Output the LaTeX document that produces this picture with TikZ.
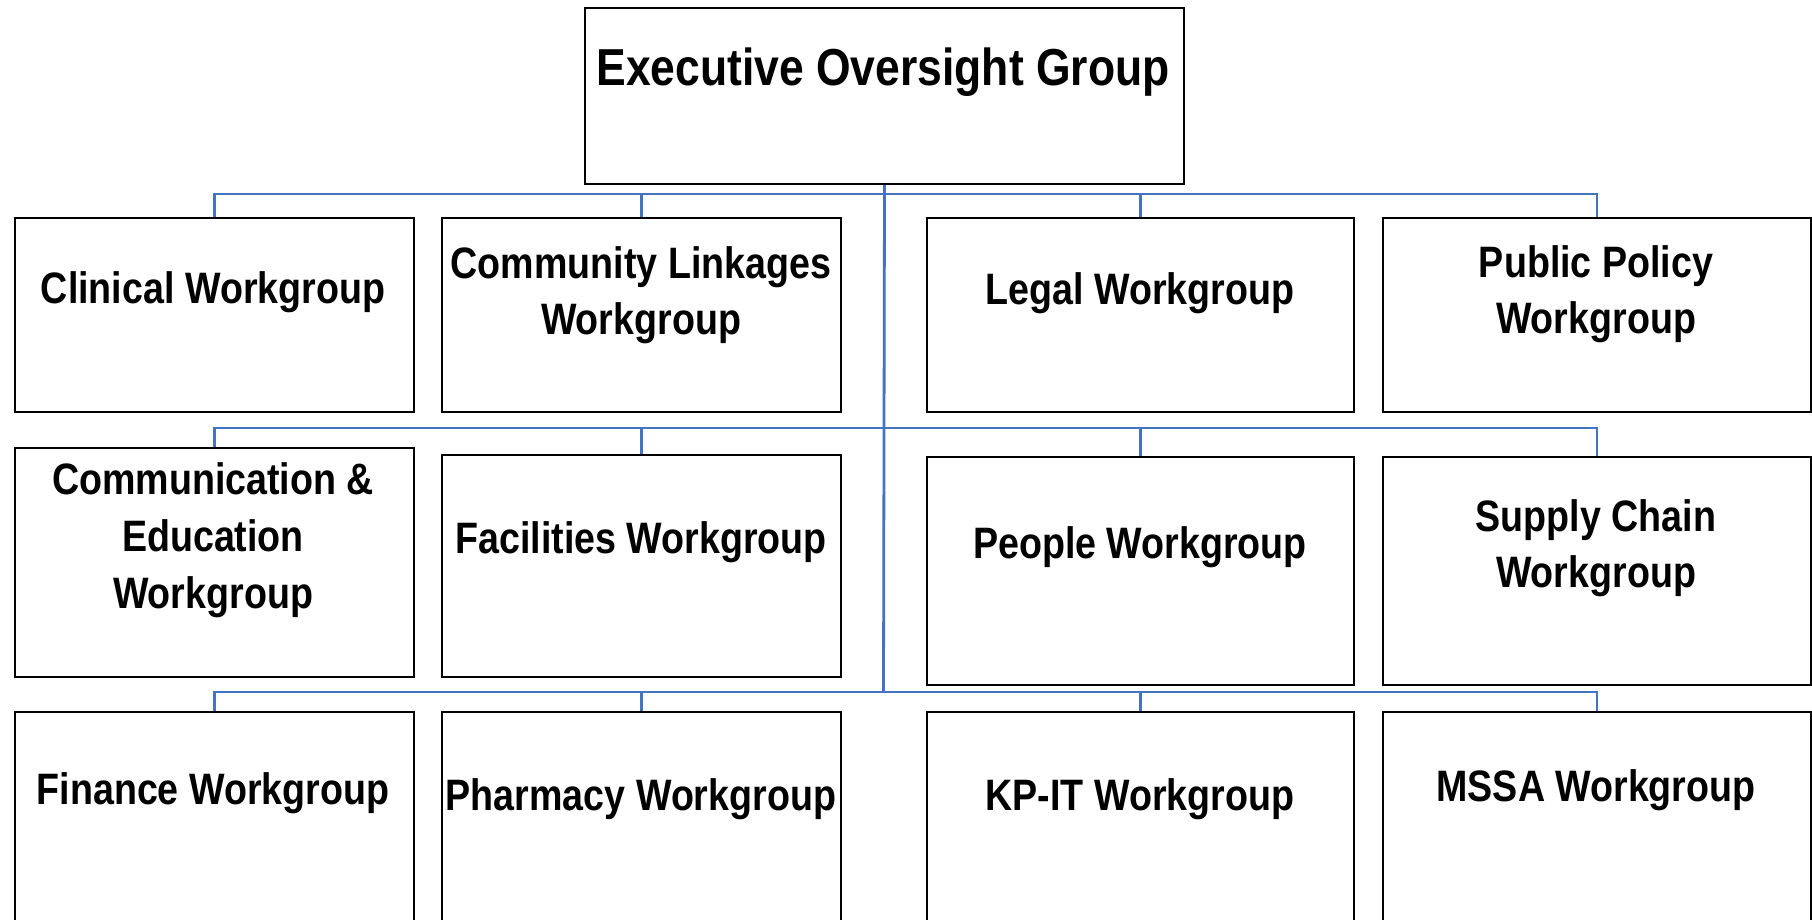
\documentclass[tikz,border=0pt]{standalone}
\usepackage{fontspec}
\setmainfont{Liberation Sans}[FakeStretch=0.855]
\definecolor{orgblue}{HTML}{4472C4}
\begin{document}
\begin{tikzpicture}[x=1pt,y=-1pt,
  box/.style={draw=black, line width=2pt, fill=white, inner sep=0pt, anchor=north west},
  lbl/.style={anchor=base, align=center, inner sep=0pt, font=\fontsize{44}{56}\selectfont\bfseries},
  conn/.style={draw=orgblue, line width=2.8pt}]
\useasboundingbox (0,0) rectangle (1812,919);
\clip (0,0) rectangle (1812,919);
\fill[white] (0,0) rectangle (1812,919);
% top
\node[box, minimum width=599pt, minimum height=176pt] (exec) at (584,7) {};
\node[lbl, font=\fontsize{52}{62}\selectfont\bfseries] (execT) at (883,85) {Executive Oversight Group};
% row 1
\node[box, minimum width=399pt, minimum height=194pt] (clin) at (14,217) {};
\node[box, minimum width=399pt, minimum height=194pt] (comm) at (441,217) {};
\node[box, minimum width=427pt, minimum height=194pt] (legal) at (926,217) {};
\node[box, minimum width=428pt, minimum height=194pt] (pub) at (1382,217) {};
\node[lbl] (clinT) at (213,303) {Clinical Workgroup};
\node[lbl] (commT) at (641,334) {Community Linkages\\Workgroup};
\node[lbl] (legalT) at (1140,304) {Legal Workgroup};
\node[lbl] (pubT) at (1596,333) {Public Policy\\Workgroup};
% row 2
\node[box, minimum width=399pt, minimum height=229pt] (cedu) at (14,447) {};
\node[box, minimum width=399pt, minimum height=222pt] (fac) at (441,454) {};
\node[box, minimum width=427pt, minimum height=228pt] (people) at (926,456) {};
\node[box, minimum width=428pt, minimum height=228pt] (supply) at (1382,456) {};
\node[lbl, font=\fontsize{44}{57}\selectfont\bfseries] (ceduT) at (213,608) {Communication \&\\Education\\Workgroup};
\node[lbl] (facT) at (641,553) {Facilities Workgroup};
\node[lbl] (peopleT) at (1140,558) {People Workgroup};
\node[lbl] (supplyT) at (1596,587) {Supply Chain\\Workgroup};
% row 3
\node[box, minimum width=399pt, minimum height=240pt] (fin) at (14,711) {};
\node[box, minimum width=399pt, minimum height=240pt] (pharm) at (441,711) {};
\node[box, minimum width=427pt, minimum height=240pt] (kpit) at (926,711) {};
\node[box, minimum width=428pt, minimum height=240pt] (mssa) at (1382,711) {};
\node[lbl] (finT) at (213,804) {Finance Workgroup};
\node[lbl] (pharmT) at (641,810) {Pharmacy Workgroup};
\node[lbl] (kpitT) at (1140,810) {KP-IT Workgroup};
\node[lbl] (mssaT) at (1596,801) {MSSA Workgroup};
% connectors
\coordinate (b1) at (883.5,194);
\coordinate (b2) at (883.5,428);
\coordinate (b3) at (883.5,692);
\draw[conn] (exec.south) -- (b3);
\draw[conn] (b1) -| (clin.north);
\draw[conn] (b1) -| (comm.north);
\draw[conn] (b1) -| (legal.north);
\draw[conn] (b1) -| (pub.north);
\draw[conn] (b2) -| (cedu.north);
\draw[conn] (b2) -| (fac.north);
\draw[conn] (b2) -| (people.north);
\draw[conn] (b2) -| (supply.north);
\draw[conn] (b3) -| (fin.north);
\draw[conn] (b3) -| (pharm.north);
\draw[conn] (b3) -| (kpit.north);
\draw[conn] (b3) -| (mssa.north);
\end{tikzpicture}
\end{document}
